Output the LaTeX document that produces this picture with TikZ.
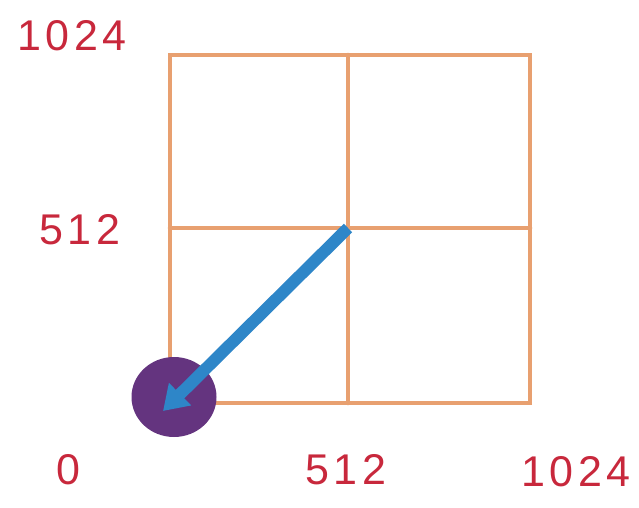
\documentclass[tikz,border=0pt]{standalone}
\usepackage{fontspec}
\setmainfont{Liberation Sans}
\usetikzlibrary{arrows.meta,shapes.geometric}
\definecolor{gridc}{HTML}{E8A070}
\definecolor{dotc}{HTML}{64347F}
\definecolor{arrc}{HTML}{2E86C8}
\definecolor{numc}{HTML}{C8283C}
\tikzset{
  grid line/.style={draw=gridc, line width=4.5pt, line cap=round},
  num/.style={font=\fontsize{43}{45}\selectfont\addfontfeature{LetterSpace=10}, text=numc, inner sep=0pt},
  dot/.style={ellipse, fill=dotc, minimum width=85pt, minimum height=80pt, inner sep=0pt},
  vec/.style={-{Triangle[width=30pt,length=24pt]}, line width=12pt, draw=arrc},
}
\begin{document}
\begin{tikzpicture}[x=1pt, y=-1pt]
\useasboundingbox (0,0) rectangle (639,507);

% ---------------- grid ----------------
\coordinate (ll) at (170,403);
\coordinate (ur) at (530,55);
\coordinate (mid) at (348,228);
\draw[grid line] (ll) rectangle (ur);
\draw[grid line] (mid |- ur) -- (mid |- ll);
\draw[grid line] (mid -| ll) -- (mid -| ur);

% ---------------- origin and vector ----------------
\node[dot] (origin) at (174,397) {};
\coordinate (tip) at (163,411);
\draw[vec] (mid) -- (tip);

% ---------------- axis numbers ----------------
\node[num] (ytop) at (72,36) {1024};
\node[num] (ymid) at (80,230) {512};
\node[num] (zero) at (68,470) {0};
\node[num] (xmid) at (346,470) {512};
\node[num] (xtop) at (576,472) {1024};

\end{tikzpicture}
\end{document}
